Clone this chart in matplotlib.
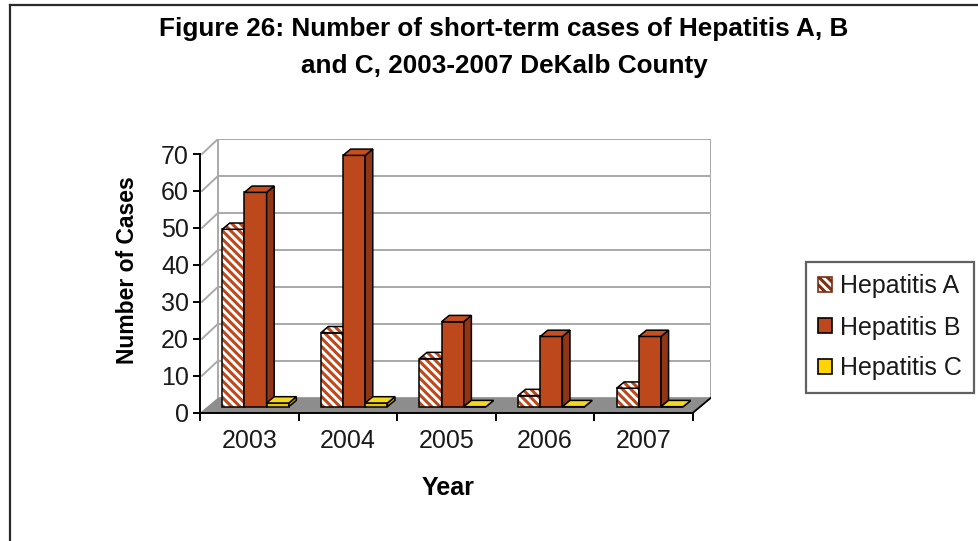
import matplotlib

matplotlib.use("Agg")

import numpy as np
import matplotlib.pyplot as plt
from matplotlib import font_manager
from matplotlib.lines import Line2D
from matplotlib.patches import Patch, Polygon

years = ["2003", "2004", "2005", "2006", "2007"]
series_names = ["Hepatitis A", "Hepatitis B", "Hepatitis C"]
hep_a = [48, 20, 13, 3, 5]
hep_b = [58, 68, 23, 19, 19]
hep_c = [1, 1, 0, 0, 0]
y_ticks = [0, 10, 20, 30, 40, 50, 60, 70]

installed = {f.name for f in font_manager.fontManager.ttflist}
NARROW = "Liberation Sans Narrow" if "Liberation Sans Narrow" in installed else "Liberation Sans"
plt.rcParams["font.family"] = ["Liberation Sans", "DejaVu Sans"]
plt.rcParams["hatch.linewidth"] = 2.2

RUST = "#BC481C"
RUST_SIDE = "#913614"
RUST_TOP = "#C64E20"
YELLOW = "#E9C400"
YELLOW_TOP = "#F6D81A"
YELLOW_SIDE = "#B89A00"
HATCH = "\\\\\\\\"

# pseudo-3d geometry in data units
DX, DY = 0.1826, 4.06          # full depth offset of the floor / walls
F0, F1 = 0.40, 0.82           # bar front / back as fraction of depth
BAR_W = 0.225
GROUP_START = 0.1525
YMAX = 70

W, H = 979, 541
fig = plt.figure(figsize=(W / 100, H / 100), dpi=100)
ax = fig.add_axes([200 / W, 1 - 412.7 / H, 511 / W, 273.7 / H])
ax.set_xlim(0, 5 + DX)
ax.set_ylim(0, YMAX + DY)
ax.patch.set_visible(False)

# back wall, side wall gridlines, floor
ax.add_patch(Polygon([(DX, DY), (5 + DX, DY), (5 + DX, YMAX + DY), (DX, YMAX + DY)],
                     closed=True, facecolor="white", edgecolor="#a9a9a9", lw=1.4, zorder=0.5))
for v in y_ticks[1:]:
    ax.plot([DX, 5 + DX], [v + DY, v + DY], color="#a9a9a9", lw=1.4, zorder=0.6)
    ax.plot([0.02, DX], [v, v + DY], color="#a9a9a9", lw=1.4, zorder=0.6)
ax.add_patch(Polygon([(0, 0), (5, 0), (5 + DX, DY), (DX, DY)], closed=True,
                     facecolor="#8d8d8d", edgecolor="none", zorder=0.7))
ax.plot([5, 5 + DX], [0, DY], color="black", lw=1.3, zorder=0.8)

cats = np.arange(len(years))
ddx, ddy = (F1 - F0) * DX, (F1 - F0) * DY
base = F0 * DY


def draw_series(values, idx, front, side, top, hatched=False):
    xs = cats + GROUP_START + idx * BAR_W + F0 * DX
    if hatched:
        ax.bar(xs, values, width=BAR_W, bottom=base, align="edge", facecolor="white",
               edgecolor=RUST, hatch=HATCH, lw=0, zorder=2)
        ax.bar(xs, values, width=BAR_W, bottom=base, align="edge", fill=False,
               edgecolor="black", lw=1.1, zorder=2)
    else:
        ax.bar(xs, values, width=BAR_W, bottom=base, align="edge", color=front,
               edgecolor="black", lw=1.1, zorder=2)
    for x, v in zip(xs, values):
        t = base + v
        side_pts = [(x + BAR_W, base), (x + BAR_W + ddx, base + ddy),
                    (x + BAR_W + ddx, t + ddy), (x + BAR_W, t)]
        top_pts = [(x, t), (x + BAR_W, t), (x + BAR_W + ddx, t + ddy), (x + ddx, t + ddy)]
        ax.add_patch(Polygon(side_pts, closed=True, facecolor=side, edgecolor="black",
                             lw=1.1, zorder=2))
        if hatched:
            ax.add_patch(Polygon(top_pts, closed=True, facecolor="white", edgecolor=RUST,
                                 hatch=HATCH, lw=0, zorder=2))
            ax.add_patch(Polygon(top_pts, closed=True, fill=False, edgecolor="black",
                                 lw=1.1, zorder=2))
        else:
            ax.add_patch(Polygon(top_pts, closed=True, facecolor=top, edgecolor="black",
                                 lw=1.1, zorder=2))


draw_series(hep_a, 0, "white", RUST_SIDE, "white", hatched=True)
draw_series(hep_b, 1, RUST, RUST_SIDE, RUST_TOP)
draw_series(hep_c, 2, YELLOW, YELLOW_SIDE, YELLOW_TOP)

# axes lines and ticks
for name in ["top", "right"]:
    ax.spines[name].set_visible(False)
ax.spines["left"].set_bounds(0, YMAX)
ax.spines["bottom"].set_bounds(0, 5)
for name in ["left", "bottom"]:
    ax.spines[name].set_linewidth(1.4)
    ax.spines[name].set_zorder(3)
ax.set_yticks(y_ticks)
ax.tick_params(axis="y", direction="out", length=5, width=1.4, pad=3, labelsize=18,
               labelcolor="#1a1a1a")
ax.set_xticks(np.arange(6))
ax.set_xticklabels([])
ax.set_xticks(cats + 0.5, minor=True)
ax.set_xticklabels(years, minor=True)
ax.tick_params(axis="x", which="major", direction="out", length=6, width=1.4)
ax.tick_params(axis="x", which="minor", length=0, pad=12, labelsize=18, labelcolor="#1a1a1a")

fig.text(128 / W, 1 - 270 / H, "Number of Cases", rotation=90, ha="center", va="center",
         fontsize=16.5, fontweight="bold")
fig.text(448 / W, 1 - 488 / H, "Year", ha="center", va="center", fontsize=18,
         fontweight="bold")
fig.text(504 / W, 1 - 29 / H, "Figure 26: Number of short-term cases of Hepatitis A, B",
         ha="center", va="center", fontsize=18.8, fontweight="bold", family=NARROW)
fig.text(504 / W, 1 - 66 / H, "and C, 2003-2007 DeKalb County",
         ha="center", va="center", fontsize=18.8, fontweight="bold", family=NARROW)

handles = [
    Patch(facecolor="white", edgecolor="#7a2e12", hatch=HATCH, lw=1.2),
    Patch(facecolor=RUST, edgecolor="black", lw=1.2),
    Patch(facecolor="#FFD400", edgecolor="black", lw=1.2),
]
leg = fig.legend(handles, series_names, loc="upper left",
                 bbox_to_anchor=(806 / W, 1 - 262 / H), bbox_transform=fig.transFigure,
                 fontsize=18, frameon=True, fancybox=False, borderaxespad=0,
                 handlelength=0.55, handleheight=0.55, handletextpad=0.3,
                 labelspacing=0.68, borderpad=0.5)
leg.get_frame().set_edgecolor("#3a3a3a")
leg.get_frame().set_linewidth(1.6)
for t in leg.get_texts():
    t.set_color("#1a1a1a")

# outer frame, only the top and left edges fall inside the image
fig.add_artist(Line2D([10 / W, 10 / W], [0, 1 - 5 / H], color="#2a2a2a", lw=1.6))
fig.add_artist(Line2D([10 / W, 1], [1 - 5 / H, 1 - 5 / H], color="#2a2a2a", lw=1.6))

fig.savefig("out.png", dpi=100)
